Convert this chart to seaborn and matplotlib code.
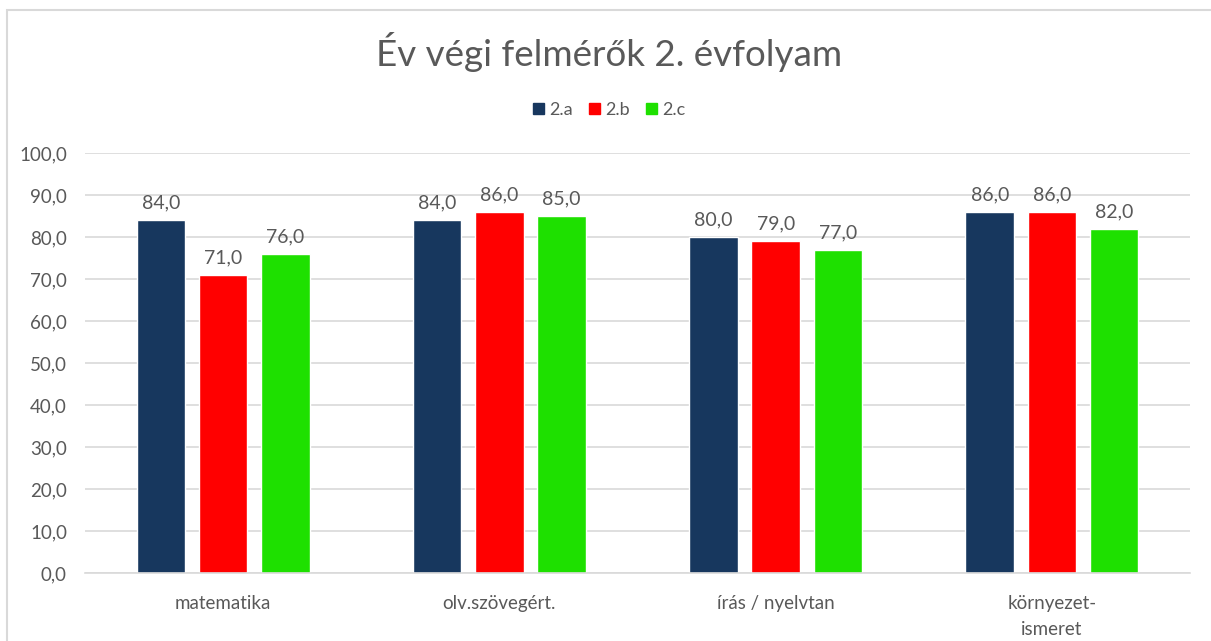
import pandas as pd
import seaborn as sns
import matplotlib.pyplot as plt
from matplotlib.patches import Rectangle
from matplotlib.ticker import FuncFormatter, MultipleLocator

# adatok
subjects = ['matematika', 'olv.szövegért.', 'írás / nyelvtan', 'környezet-\nismeret']
classes = ['2.a', '2.b', '2.c']
scores_2a = [84.0, 84.0, 80.0, 86.0]
scores_2b = [71.0, 86.0, 79.0, 86.0]
scores_2c = [76.0, 85.0, 77.0, 82.0]
class_colors = ['#17375E', '#FF0000', '#1EE000']

df = pd.DataFrame({
    'tantárgy': subjects * 3,
    'osztály': [c for c in classes for _ in subjects],
    'pont': scores_2a + scores_2b + scores_2c,
})

sns.set_style('white')
plt.rcParams['font.family'] = ['Lato', 'DejaVu Sans']
text_gray = '#595959'

fig = plt.figure(figsize=(12.11, 6.41), dpi=100)
fig.patches.append(Rectangle((7 / 1211, -0.01), 1.1, 1 - 10 / 641 + 0.01,
                             transform=fig.transFigure, fill=False,
                             edgecolor='#D9D9D9', linewidth=1.5))
ax = fig.add_axes([85 / 1211, 1 - 573 / 641, 1105 / 1211, 420 / 641])

sns.barplot(data=df, x='tantárgy', y='pont', hue='osztály', order=subjects,
            hue_order=classes, palette=class_colors, width=0.675, gap=0.22,
            saturation=1, ax=ax, legend=False)

comma = lambda v: f'{v:.1f}'.replace('.', ',')
for cont in ax.containers:
    ax.bar_label(cont, labels=[comma(v) for v in cont.datavalues],
                 padding=6, fontsize=14, color=text_gray)

ax.set_ylim(0, 100)
ax.yaxis.set_major_locator(MultipleLocator(10))
ax.yaxis.set_major_formatter(FuncFormatter(lambda v, p: comma(v)))
ax.grid(axis='y', color='#D9D9D9', linewidth=1.2)
ax.set_axisbelow(True)
for s in ['top', 'right', 'left']:
    ax.spines[s].set_visible(False)
ax.spines['bottom'].set_color('#D9D9D9')
ax.spines['bottom'].set_linewidth(1.2)
ax.tick_params(axis='both', length=0, labelsize=13.5, colors=text_gray)
ax.tick_params(axis='x', pad=16)
ax.tick_params(axis='y', pad=13)
for lbl in ax.get_xticklabels():
    lbl.set_linespacing(1.6)
ax.set_xlabel('')
ax.set_ylabel('')

fig.text(0.503, 1 - 52 / 641, 'Év végi felmérők 2. évfolyam', ha='center',
         va='center', fontsize=26.5, color=text_gray)

handles = [Rectangle((0, 0), 1, 1, color=c) for c in class_colors]
fig.legend(handles, classes, loc='center', bbox_to_anchor=(0.503, 1 - 110 / 641),
           ncol=3, frameon=False, fontsize=13, labelcolor=text_gray,
           handlelength=0.6, handleheight=0.6, handletextpad=0.3, columnspacing=0.9)

fig.savefig('out.png', dpi=100)
